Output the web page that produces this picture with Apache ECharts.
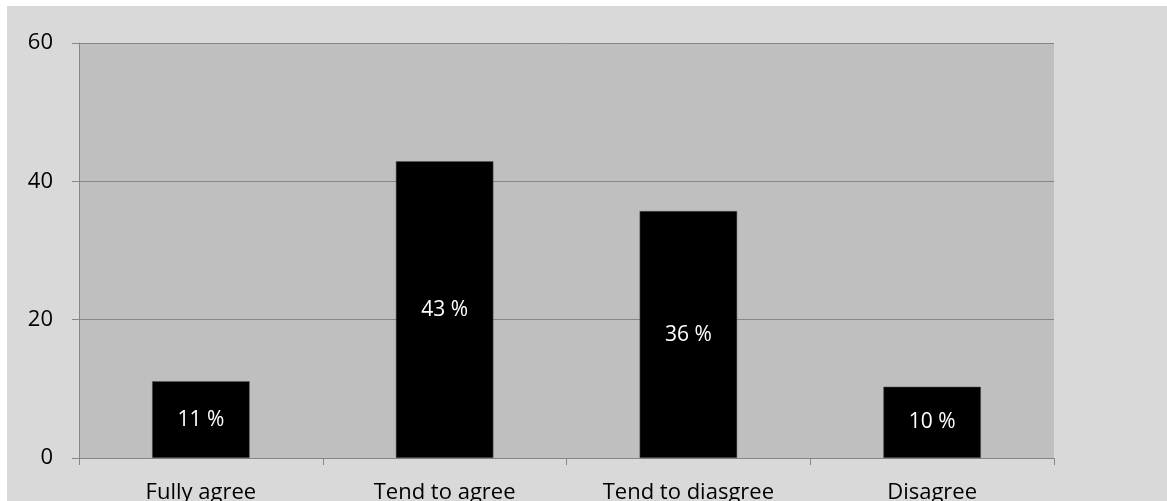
<!DOCTYPE html>
<html>
<head>
<meta charset="utf-8">
<script src="https://cdn.jsdelivr.net/npm/echarts@6/dist/echarts.min.js"></script>
<style>
  html, body { margin: 0; padding: 0; background: #ffffff; overflow: hidden; }
  #main { position: absolute; left: 7px; top: 6px; width: 1160px; height: 495px; }
</style>
</head>
<body>
<div id="main"></div>
<script>
const categories = ['Fully agree', 'Tend to agree', 'Tend to diasgree', 'Disagree'];
const shares = [11.1, 42.9, 35.7, 10.3];
const yTicks = { min: 0, max: 60, step: 20 };

const chart = echarts.init(document.getElementById('main'));
const gridColor = '#868686';

const option = {
    backgroundColor: '#d9d9d9',
    textStyle: { fontFamily: 'Open Sans' },
    grid: {
        show: true,
        left: 72,
        top: 37,
        width: 975,
        height: 415,
        outerBoundsMode: 'none',
        containLabel: false,
        backgroundColor: '#bfbfbf',
        borderWidth: 0
    },
    xAxis: {
        type: 'category',
        data: categories,
        axisLine: { lineStyle: { color: gridColor, width: 1 } },
        axisTick: { show: true, length: 7, lineStyle: { color: gridColor } },
        axisLabel: { color: '#000', fontSize: 22, margin: 24 }
    },
    yAxis: {
        type: 'value',
        min: yTicks.min,
        max: yTicks.max,
        interval: yTicks.step,
        axisLine: { show: true, lineStyle: { color: gridColor, width: 1 } },
        axisTick: { show: true, length: 7, lineStyle: { color: gridColor } },
        axisLabel: { color: '#000', fontSize: 22, margin: 26 },
        splitLine: { lineStyle: { color: gridColor, width: 1 } }
    },
    series: [{
        type: 'bar',
        data: shares,
        barWidth: '40%',
        itemStyle: { color: '#000', borderColor: '#595959', borderWidth: 0.5 },
        label: {
            show: true,
            position: 'inside',
            color: '#fff',
            fontSize: 21,
            formatter: p => Math.round(p.value) + ' %'
        },
        silent: true
    }],
    animation: false
};

chart.setOption(option);
window.addEventListener('resize', function () {
    chart.resize();
});
</script>
</body>
</html>
